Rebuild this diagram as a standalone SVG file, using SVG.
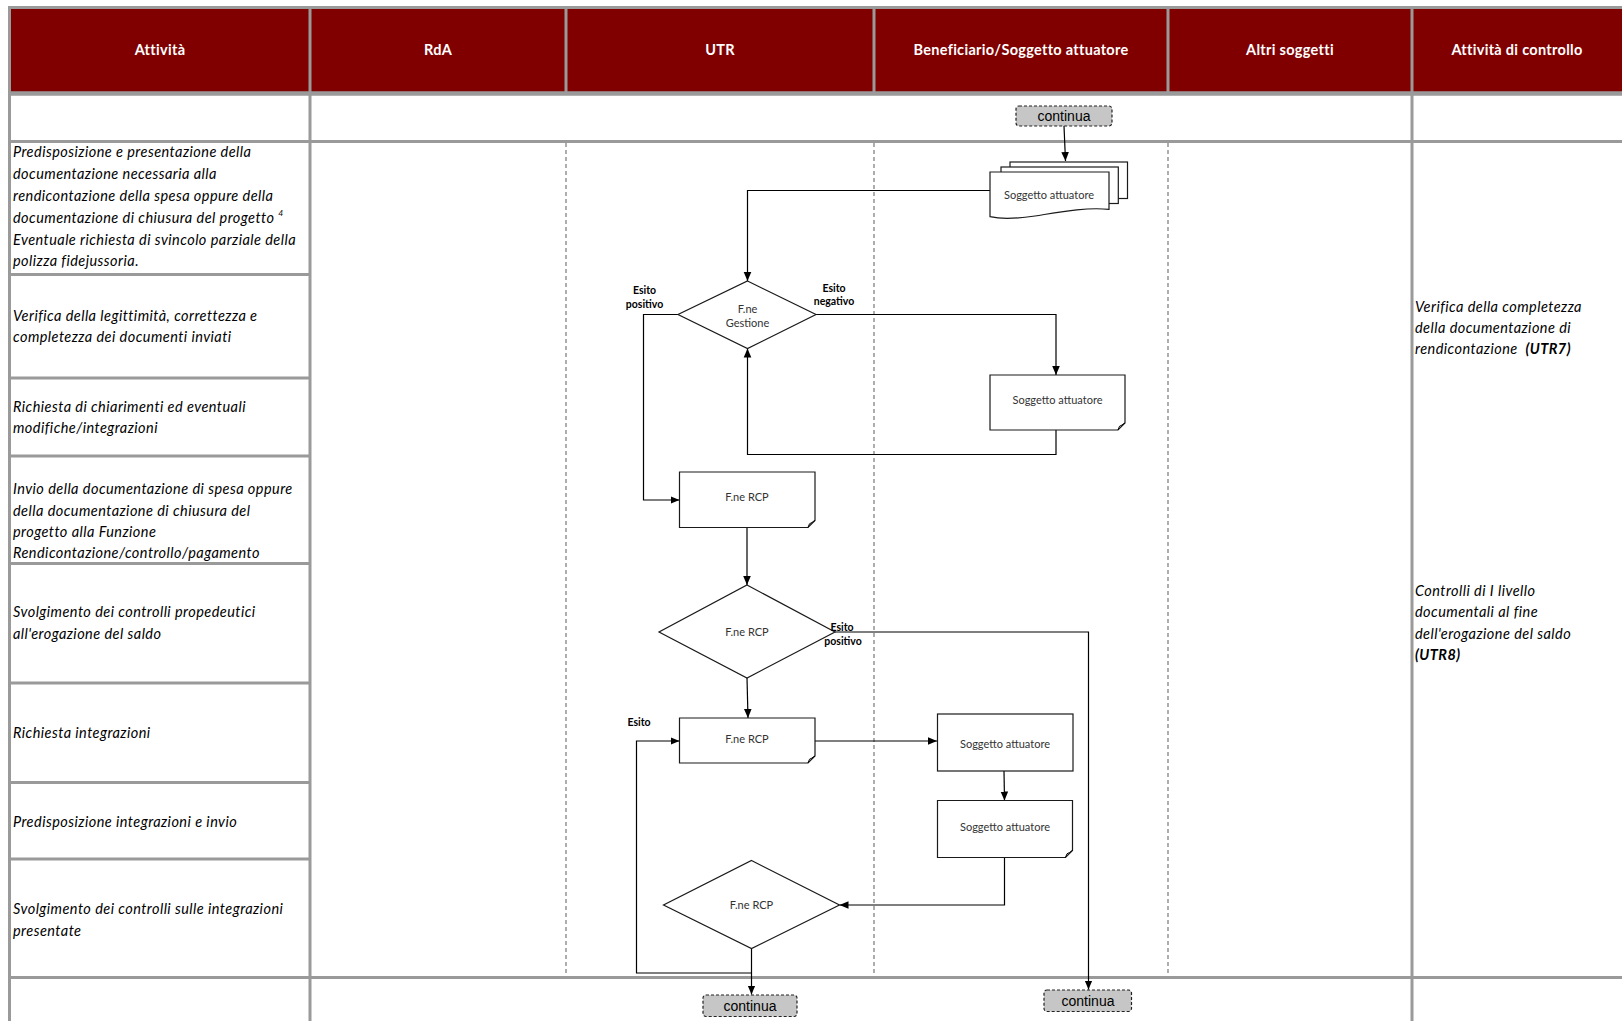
<svg xmlns="http://www.w3.org/2000/svg" width="1622" height="1021" viewBox="0 0 1622 1021">
<defs>
<style>
.grid{stroke:#9a9a9a;stroke-width:3;fill:none}
.lane{stroke:#9a9a9a;stroke-width:1.6;stroke-dasharray:4 3;fill:none}
.hdr{font-family:Lato,"Open Sans",sans-serif;font-weight:bold;font-size:14.5px;letter-spacing:0.3px;fill:#fff;text-anchor:middle}
.act{font-family:Lato,"Open Sans",sans-serif;font-style:italic;font-size:14.5px;letter-spacing:0.45px;fill:#000}
.shape{fill:#fff;stroke:#1a1a1a;stroke-width:1.2}
.lbl{font-family:Lato,"Open Sans",sans-serif;font-size:11px;fill:#333;text-anchor:middle}
.esito{font-family:Lato,"Open Sans",sans-serif;font-weight:bold;font-size:10.5px;fill:#000;text-anchor:middle}
.cont{fill:#c6c6c6;stroke:#222;stroke-width:1.2;stroke-dasharray:3 2}
.conttxt{font-family:"Liberation Sans",Arial,sans-serif;font-size:14px;fill:#000;text-anchor:middle}
.conn{stroke:#000;stroke-width:1.2;fill:none;marker-end:url(#arr)}
.line{stroke:#000;stroke-width:1.2;fill:none}
</style>
<marker id="arr" markerWidth="10" markerHeight="10" refX="9" refY="5" orient="auto" markerUnits="userSpaceOnUse">
<path d="M0,1.2 L9,5 L0,8.8 Z" fill="#000"/>
</marker>
</defs>
<rect width="1622" height="1021" fill="#fff"/>

<g id="table">
<rect x="9.5" y="7.5" width="1612.5" height="86" fill="#800000"/>
<line class="grid" x1="8" y1="7.5" x2="1622" y2="7.5"/>
<line class="grid" x1="8" y1="93.5" x2="1622" y2="93.5" style="stroke-width:4.5"/>
<line class="grid" x1="8" y1="141.5" x2="1622" y2="141.5"/>
<line class="grid" x1="8" y1="977.5" x2="1622" y2="977.5"/>
<line class="grid" x1="9.5" y1="6" x2="9.5" y2="1021"/>
<line class="grid" x1="310" y1="6" x2="310" y2="1021"/>
<line class="grid" x1="1412" y1="6" x2="1412" y2="1021"/>
<line class="grid" x1="566" y1="6" x2="566" y2="93.5"/>
<line class="grid" x1="874" y1="6" x2="874" y2="93.5"/>
<line class="grid" x1="1168" y1="6" x2="1168" y2="93.5"/>
<line class="lane" x1="566" y1="143" x2="566" y2="976"/>
<line class="lane" x1="874" y1="143" x2="874" y2="976"/>
<line class="lane" x1="1168" y1="143" x2="1168" y2="976"/>
<line class="grid" x1="8" y1="274.5" x2="310" y2="274.5"/>
<line class="grid" x1="8" y1="378" x2="310" y2="378"/>
<line class="grid" x1="8" y1="456" x2="310" y2="456"/>
<line class="grid" x1="8" y1="563.5" x2="310" y2="563.5"/>
<line class="grid" x1="8" y1="683" x2="310" y2="683"/>
<line class="grid" x1="8" y1="782.5" x2="310" y2="782.5"/>
<line class="grid" x1="8" y1="859" x2="310" y2="859"/>
<text class="hdr" x="160" y="55">Attività</text>
<text class="hdr" x="438" y="55">RdA</text>
<text class="hdr" x="720" y="55">UTR</text>
<text class="hdr" x="1021" y="55">Beneficiario/Soggetto attuatore</text>
<text class="hdr" x="1290" y="55">Altri soggetti</text>
<text class="hdr" x="1517" y="55">Attività di controllo</text>
</g>

<g id="activities">
<text class="act" x="13" y="157">Predisposizione e presentazione della</text>
<text class="act" x="13" y="179">documentazione necessaria alla</text>
<text class="act" x="13" y="200.5">rendicontazione della spesa oppure della</text>
<text class="act" x="13" y="223">documentazione di chiusura del progetto <tspan font-size="8.5" dy="-7">4</tspan></text>
<text class="act" x="13" y="245">Eventuale richiesta di svincolo parziale della</text>
<text class="act" x="13" y="266">polizza fidejussoria.</text>
<text class="act" x="13" y="320.5">Verifica della legittimità, correttezza e</text>
<text class="act" x="13" y="342">completezza dei documenti inviati</text>
<text class="act" x="13" y="411.5">Richiesta di chiarimenti ed eventuali</text>
<text class="act" x="13" y="432.5">modifiche/integrazioni</text>
<text class="act" x="13" y="494">Invio della documentazione di spesa oppure</text>
<text class="act" x="13" y="515.5">della documentazione di chiusura del</text>
<text class="act" x="13" y="537">progetto alla Funzione</text>
<text class="act" x="13" y="558">Rendicontazione/controllo/pagamento</text>
<text class="act" x="13" y="617">Svolgimento dei controlli propedeutici</text>
<text class="act" x="13" y="638.5">all'erogazione del saldo</text>
<text class="act" x="13" y="737.5">Richiesta integrazioni</text>
<text class="act" x="13" y="826.5">Predisposizione integrazioni e invio</text>
<text class="act" x="13" y="914">Svolgimento dei controlli sulle integrazioni</text>
<text class="act" x="13" y="935.5">presentate</text>
</g>

<g id="controls">
<text class="act" x="1415" y="311.5">Verifica della completezza</text>
<text class="act" x="1415" y="332.5">della documentazione di</text>
<text class="act" x="1415" y="353.5">rendicontazione&#160; <tspan font-weight="bold">(UTR7)</tspan></text>
<text class="act" x="1415" y="595.5">Controlli di I livello</text>
<text class="act" x="1415" y="617">documentali al fine</text>
<text class="act" x="1415" y="638.5">dell'erogazione del saldo</text>
<text class="act" x="1415" y="660" font-weight="bold">(UTR8)</text>
</g>

<g id="connectors">
<path class="conn" d="M1064,126 L1065.5,161"/>
<path class="conn" d="M990,190.5 H747.5 V281"/>
<path class="conn" d="M816,314.5 H1056 V375"/>
<path class="conn" d="M1056,430 V454.5 H747.5 V348.5"/>
<path class="conn" d="M678,314.5 H643.5 V500 H679.5"/>
<path class="conn" d="M747,527.5 V585"/>
<path class="conn" d="M835,632 H1088.5 V989.5"/>
<path class="conn" d="M747,678 L748,718"/>
<path class="conn" d="M815,741 H937"/>
<path class="conn" d="M1004,771 L1004.5,800.5"/>
<path class="conn" d="M1004.5,857.5 V905 H839.5"/>
<path class="conn" d="M751.5,948.5 V994.5"/>
<path class="conn" d="M751.5,973 H636.5 V741 H679.5"/>
</g>

<g id="n-continua-top">
<rect class="cont" x="1016" y="106" width="96" height="20" rx="3"/>
<text class="conttxt" x="1064" y="121">continua</text>
</g>

<g id="n-stack">
<rect class="shape" x="1010" y="162" width="117.5" height="36.5"/>
<rect class="shape" x="1001" y="167" width="117.3" height="36.5"/>
<path class="shape" d="M990,172 H1109 V209.3 C1085,207 1060,212 1035,216 C1015,219 1000,219 990,216.7 Z"/>
<text class="lbl" x="1049" y="199">Soggetto attuatore</text>
</g>

<g id="n-gestione">
<polygon class="shape" points="747.5,281 816,314.5 747.5,348.5 678,314.5"/>
<text class="lbl" x="747.5" y="313">F.ne</text>
<text class="lbl" x="747.5" y="327">Gestione</text>
</g>

<g id="n-sogg-2">
<path class="shape" d="M990,375 H1125 V423 L1118,430 H990 Z"/>
<path class="line" d="M1118,430 Q1119,425 1122,425 Q1123,424 1125,423" style="stroke-width:1"/>
<text class="lbl" x="1057.5" y="403.5">Soggetto attuatore</text>
</g>

<g id="n-rcp-1">
<path class="shape" d="M679.5,472 H815 V520.5 L808,527.5 H679.5 Z"/>
<path class="line" d="M808,527.5 Q809,522.5 812,522.5 Q813,521.5 815,520.5" style="stroke-width:1"/>
<text class="lbl" x="747" y="501">F.ne RCP</text>
</g>

<g id="n-rcp-2">
<polygon class="shape" points="747,585 835,632 747,678 659,632"/>
<text class="lbl" x="747" y="636">F.ne RCP</text>
</g>

<g id="n-rcp-3">
<path class="shape" d="M679.5,718 H815 V756 L808,763 H679.5 Z"/>
<path class="line" d="M808,763 Q809,758 812,758 Q813,757 815,756" style="stroke-width:1"/>
<text class="lbl" x="747" y="742.5">F.ne RCP</text>
</g>

<g id="n-sogg-3">
<rect class="shape" x="937.5" y="714" width="135.5" height="57"/>
<text class="lbl" x="1005" y="747.5">Soggetto attuatore</text>
</g>

<g id="n-sogg-4">
<path class="shape" d="M937.5,800.5 H1072.5 V850.5 L1065.5,857.5 H937.5 Z"/>
<path class="line" d="M1065.5,857.5 Q1066.5,852.5 1069.5,852.5 Q1070.5,851.5 1072.5,850.5" style="stroke-width:1"/>
<text class="lbl" x="1005" y="830.5">Soggetto attuatore</text>
</g>

<g id="n-rcp-4">
<polygon class="shape" points="751.5,860.5 839.5,905 751.5,948.5 663.5,905"/>
<text class="lbl" x="751.5" y="909">F.ne RCP</text>
</g>

<g id="n-continua-bottom">
<rect class="cont" x="703" y="995" width="94" height="21.5" rx="3"/>
<text class="conttxt" x="750" y="1010.5">continua</text>
</g>

<g id="n-continua-right">
<rect class="cont" x="1044" y="990" width="87.5" height="21.5" rx="3"/>
<text class="conttxt" x="1088" y="1005.5">continua</text>
</g>

<g id="labels">
<text class="esito" x="644.5" y="293.5">Esito</text>
<text class="esito" x="644.5" y="308">positivo</text>
<text class="esito" x="834" y="291.5">Esito</text>
<text class="esito" x="834" y="305">negativo</text>
<text class="esito" x="842" y="631">Esito</text>
<text class="esito" x="843" y="645">positivo</text>
<text class="esito" x="639" y="726">Esito</text>
</g>
</svg>
